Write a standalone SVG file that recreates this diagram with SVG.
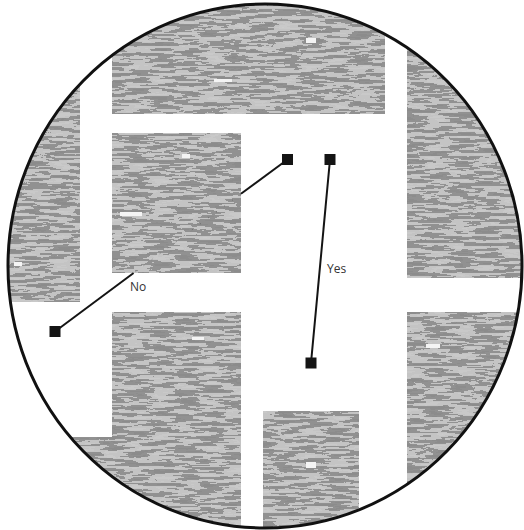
<svg xmlns="http://www.w3.org/2000/svg" width="524" height="530" viewBox="0 0 524 530">
  <defs>
    <clipPath id="lens">
      <ellipse cx="265" cy="266" rx="257" ry="262"/>
    </clipPath>
    <filter id="tex" x="0" y="0" width="1" height="1" color-interpolation-filters="sRGB">
      <feTurbulence type="fractalNoise" baseFrequency="0.04 0.3" numOctaves="3" seed="7" result="n"/>
      <feColorMatrix in="n" type="matrix" values="1 0 0 0 0  1 0 0 0 0  1 0 0 0 0  0 0 0 0 1" result="g"/>
      <feComponentTransfer in="g" result="t">
        <feFuncR type="discrete" tableValues="0.55 0.55 0.57 0.77 0.79 0.8"/>
        <feFuncG type="discrete" tableValues="0.55 0.55 0.57 0.77 0.79 0.8"/>
        <feFuncB type="discrete" tableValues="0.55 0.55 0.57 0.77 0.79 0.8"/>
      </feComponentTransfer>
      <feGaussianBlur stdDeviation="0.4" result="b"/>
      <feComposite in="b" in2="SourceGraphic" operator="in"/>
    </filter>
    <style>
      .blk { fill: #000; }
      .conn { stroke: #141414; stroke-width: 2; fill: none; }
      .faint { stroke: #555; stroke-width: 1; stroke-dasharray: 1 9; fill: none; opacity: 0.7; }
      .end { fill: #141414; }
      .lbl { font-family: "Open Sans", "Liberation Sans", Arial, sans-serif; font-size: 12px; fill: #333; }
      .speck { fill: #f4f4f4; }
    </style>
  </defs>
  <rect width="524" height="530" fill="#fff"/>
  <g id="page" clip-path="url(#lens)">
    <g id="text-blocks" filter="url(#tex)">
      <rect class="blk" x="0" y="0" width="80" height="302"/>
      <rect class="blk" x="112" y="0" width="273" height="114"/>
      <rect class="blk" x="112" y="133" width="129" height="140"/>
      <rect class="blk" x="407" y="0" width="117" height="278"/>
      <rect class="blk" x="407" y="312" width="117" height="218"/>
      <rect class="blk" x="112" y="312" width="129" height="218"/>
      <rect class="blk" x="0" y="437" width="112" height="93"/>
      <rect class="blk" x="263" y="411" width="96" height="119"/>
    </g>
    <g id="specks">
      <rect class="speck" x="306" y="38" width="10" height="5"/>
      <rect class="speck" x="214" y="79" width="18" height="3"/>
      <rect class="speck" x="120" y="212" width="22" height="4"/>
      <rect class="speck" x="182" y="154" width="8" height="4"/>
      <rect class="speck" x="14" y="262" width="8" height="4"/>
      <rect class="speck" x="426" y="344" width="14" height="4"/>
      <rect class="speck" x="306" y="462" width="10" height="6"/>
      <rect class="speck" x="192" y="337" width="12" height="3"/>
    </g>
  </g>
  <ellipse id="lens-rim" cx="265" cy="266" rx="257" ry="262" fill="none" stroke="#111" stroke-width="3"/>
  <g id="connectors">
    <line class="conn" x1="287.5" y1="159.5" x2="241" y2="193.8"/>
    <line class="faint" x1="241" y1="193.8" x2="133.6" y2="273"/>
    <line class="conn" x1="133.6" y1="273" x2="55" y2="331.5"/>
    <line class="conn" x1="330" y1="159.5" x2="311" y2="363"/>
    <text class="lbl" x="130" y="291">No</text>
    <text class="lbl" x="327" y="273">Yes</text>
  </g>
  <g id="no-start"><rect class="end" x="282" y="154" width="11" height="11"/></g>
  <g id="no-end"><rect class="end" x="49.5" y="326" width="11" height="11"/></g>
  <g id="yes-start"><rect class="end" x="324.5" y="154" width="11" height="11"/></g>
  <g id="yes-end"><rect class="end" x="305.5" y="357.5" width="11" height="11"/></g>
</svg>
